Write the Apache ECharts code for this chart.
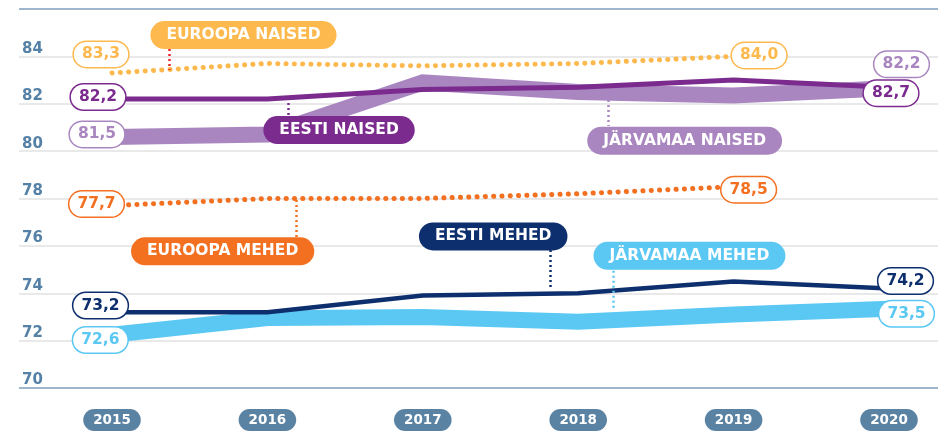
<!DOCTYPE html>
<html>
<head>
<meta charset="utf-8">
<script src="https://cdn.jsdelivr.net/npm/echarts@6/dist/echarts.min.js"></script>
<style>
html,body{margin:0;padding:0;background:#fff;}
#chart{width:946px;height:431px;}
</style>
</head>
<body>
<div id="chart"></div>
<script>
// ---------- DATA ----------
const years = [2015, 2016, 2017, 2018, 2019, 2020];
const yTicks = [70, 72, 74, 76, 78, 80, 82, 84, 86];

const euroopaNaised  = [83.3, 83.7, 83.6, 83.7, 84.0];
const eestiNaised    = [82.2, 82.2, 82.6, 82.7, 83.0, 82.7];
const jarvamaaNaised = [80.6, 80.7, 82.9, 82.5, 82.35, 82.65];
const euroopaMehed   = [77.7, 78.0, 78.0, 78.2, 78.5];
const eestiMehed     = [73.2, 73.2, 73.9, 74.0, 74.5, 74.2];
const jarvamaaMehed  = [72.25, 72.95, 73.0, 72.8, 73.1, 73.35];

const seriesNames = ['EUROOPA NAISED', 'EESTI NAISED', 'JÄRVAMAA NAISED', 'EUROOPA MEHED', 'EESTI MEHED', 'JÄRVAMAA MEHED'];
const startLabels = ['83,3', '82,2', '81,5', '77,7', '73,2', '72,6'];
const endLabels   = ['84,0', '82,7', '82,2', '78,5', '74,2', '73,5'];

// ---------- STYLE / LAYOUT ----------
const FONT = 'DejaVu Sans';
const C = {
  euN: '#fdb94e', eeN: '#7b2a8e', jaN: '#a986c0',
  euM: '#f37021', eeM: '#0d2f6e', jaM: '#5bc8f4',
  axis: '#5581a6', pill: '#5a82a3', grid: '#e2e2e2', frame: '#7e9fbc', red: '#e8262b'
};

const defs = [
  { name: seriesNames[0], values: euroopaNaised, color: C.euN, width: 5, dotted: true, z: 4,
    startOff: [-11, -18.5], endOff: [25.5, -1],
    tag: [2015.846, 84.90], leader: { x: 2015.370, y1: 84.31, y2: 83.43, color: C.red } },
  { name: seriesNames[1], values: eestiNaised, color: C.eeN, width: 5, z: 3,
    startOff: [-14, -2], endOff: [2, 6],
    tag: [2016.461, 80.89], leader: { x: 2016.133, y1: 82.03, y2: 81.48, color: C.eeN } },
  { name: seriesNames[2], values: jarvamaaNaised, color: C.jaN, width: 16, z: 2,
    startOff: [-15, -2.5], endOff: [12.5, -24],
    tag: [2018.685, 80.44], leader: { x: 2018.194, y1: 82.16, y2: 81.06, color: C.jaN } },
  { name: seriesNames[3], values: euroopaMehed, color: C.euM, width: 5, dotted: true, z: 4,
    startOff: [-15.5, -1.5], endOff: [15, 3],
    tag: [2015.712, 75.77], leader: { x: 2016.184, y1: 77.94, y2: 76.37, color: C.euM } },
  { name: seriesNames[4], values: eestiMehed, color: C.eeM, width: 4.5, z: 3,
    startOff: [-11.5, -6.7], endOff: [16.5, -7.5],
    tag: [2017.453, 76.40], leader: { x: 2017.819, y1: 75.83, y2: 74.14, color: C.eeM } },
  { name: seriesNames[5], values: jarvamaaMehed, color: C.jaM, width: 16, z: 2,
    startOff: [-11.7, 5.3], endOff: [17.5, 5.1],
    tag: [2018.716, 75.58], leader: { x: 2018.226, y1: 74.95, y2: 73.34, color: C.jaM } }
];

const pairs = vals => vals.map((v, i) => [years[i], v]);

function valuePill(coord, text, color, off) {
  return {
    coord: coord, symbol: 'circle', symbolSize: 1, itemStyle: { color: 'rgba(0,0,0,0)' },
    label: {
      show: true, position: 'inside', formatter: text, offset: off,
      color: color, backgroundColor: '#ffffff', borderColor: color, borderWidth: 1.5,
      borderRadius: 13, padding: [5, 8, 4, 8], lineHeight: 16,
      fontFamily: FONT, fontWeight: 'bold', fontSize: 15.5
    }
  };
}
function namePill(coord, text, color) {
  return {
    coord: coord, symbol: 'circle', symbolSize: 1, itemStyle: { color: 'rgba(0,0,0,0)' },
    label: {
      show: true, position: 'inside', formatter: text,
      color: '#ffffff', backgroundColor: color, borderRadius: 14,
      padding: [6, 16, 6, 16], lineHeight: 16,
      fontFamily: FONT, fontWeight: 'bold', fontSize: 15.5
    }
  };
}

const lineSeries = defs.map(d => ({
  type: 'line', name: d.name, data: pairs(d.values), z: d.z,
  symbol: 'none', silent: true,
  lineStyle: d.dotted
    ? { color: d.color, width: d.width, type: [0.1, 8.2], cap: 'round' }
    : { color: d.color, width: d.width, join: 'miter', cap: 'butt' }
}));

const leaderLines = defs.map(d => [
  { coord: [d.leader.x, d.leader.y1], lineStyle: { color: d.leader.color, width: 2.5, type: [2, 3] } },
  { coord: [d.leader.x, d.leader.y2] }
]);

const pills = [];
defs.forEach((d, i) => {
  const n = d.values.length;
  pills.push(valuePill([years[0], d.values[0]], startLabels[i], d.color, d.startOff));
  pills.push(valuePill([years[n - 1], d.values[n - 1]], endLabels[i], d.color, d.endOff));
  pills.push(namePill(d.tag, d.name, d.color));
});

const annotationSeries = {
  type: 'scatter', data: [], z: 10, silent: true,
  markLine: { silent: true, symbol: 'none', label: { show: false }, animation: false, data: leaderLines },
  markPoint: { silent: true, animation: false, data: pills }
};

const chart = echarts.init(document.getElementById('chart'), null, { renderer: 'canvas' });
chart.setOption({
  animation: false,
  backgroundColor: '#ffffff',
  grid: { left: 19, right: 8, top: 9, bottom: 43, containLabel: false },
  xAxis: {
    type: 'value', min: 2014.4015, max: 2020.3153,
    axisLine: { show: false }, axisTick: { show: false }, splitLine: { show: false },
    axisLabel: {
      customValues: years, formatter: v => String(Math.round(v)), margin: 21,
      color: '#ffffff', backgroundColor: C.pill, borderRadius: 11, padding: [4, 10, 4, 10],
      lineHeight: 14, fontFamily: FONT, fontWeight: 'bold', fontSize: 13.5
    }
  },
  yAxis: {
    type: 'value', min: yTicks[0], max: yTicks[yTicks.length - 1], interval: 2,
    axisLine: { show: false }, axisTick: { show: false },
    splitLine: { lineStyle: { width: 1.6, color: yTicks.map((t, i) => (i === 0 || i === yTicks.length - 1) ? C.frame : C.grid) } },
    axisLabel: {
      inside: true, margin: 3, showMaxLabel: false, verticalAlign: 'bottom', lineHeight: 15,
      color: C.axis, fontFamily: FONT, fontWeight: 'bold', fontSize: 15
    }
  },
  series: lineSeries.concat([annotationSeries])
});
</script>
</body>
</html>
